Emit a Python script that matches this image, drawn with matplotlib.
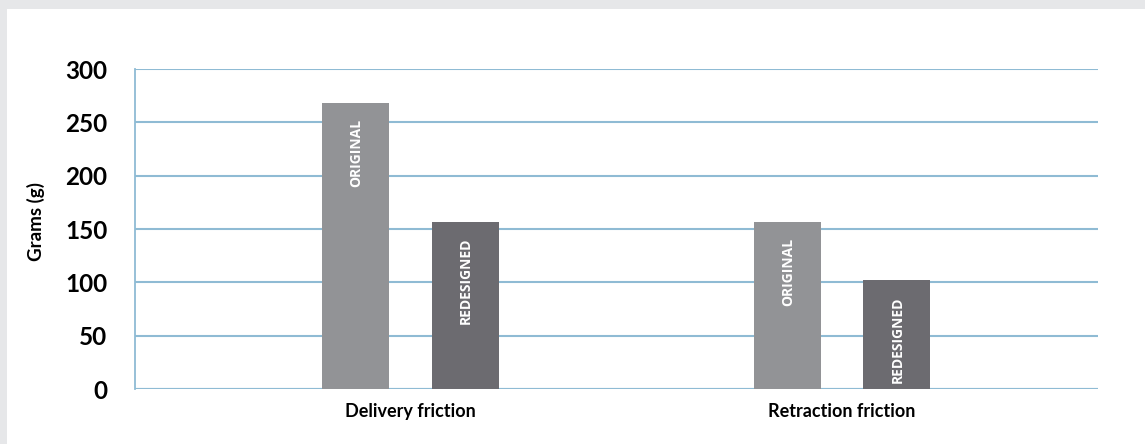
import matplotlib
matplotlib.use("Agg")
import matplotlib.pyplot as plt
from matplotlib.patches import Rectangle
import numpy as np

categories = ["Delivery friction", "Retraction friction"]
series_names = ["ORIGINAL", "REDESIGNED"]
original = [268, 157]
redesigned = [157, 102]
yticks = [0, 50, 100, 150, 200, 250, 300]

W, H = 1145, 444
fig = plt.figure(figsize=(W / 100, H / 100), dpi=100)
fig.patch.set_facecolor("#e6e7e9")
fig.patches.append(Rectangle((7 / W, 0), 1, 1 - 9 / H, transform=fig.transFigure,
                             facecolor="white", edgecolor="none", zorder=-5))

ax = fig.add_axes([135 / W, 1 - 389 / H, (1098 - 135) / W, (389 - 69) / H])
ax.set_facecolor("none")
ax.set_zorder(2)

grid_c = "#8fbbd4"
x = np.arange(len(categories))
off = 0.127
bw = 0.155
colors = ["#929396", "#6c6b70"]
for vals, o, c, name in [(original, -off, colors[0], series_names[0]),
                         (redesigned, off, colors[1], series_names[1])]:
    bars = ax.bar(x + o, vals, width=bw, color=c, zorder=3)
    for b in bars:
        ax.annotate(name, (b.get_x() + b.get_width() / 2, b.get_height()),
                    xytext=(1, -16), textcoords="offset pixels",
                    rotation=90, ha="center", va="top", color="white",
                    fontsize=10, fontweight="bold", family="Open Sans", zorder=4)

ax.set_ylim(0, 300)
ax.set_xlim(-0.638, 1.593)
ax.set_yticks(yticks)
ax.yaxis.grid(True, color=grid_c, linewidth=1.5, zorder=1)
ax.set_axisbelow(True)
for s in ["top", "right", "bottom"]:
    ax.spines[s].set_visible(False)
ax.spines["left"].set_color(grid_c)
ax.spines["left"].set_linewidth(1.3)
ax.axhline(0, color=grid_c, linewidth=1.5, zorder=1)
ax.tick_params(axis="y", length=0, pad=20, labelsize=17.5)
ax.tick_params(axis="x", length=0, pad=10, labelsize=13)
for t in ax.get_yticklabels():
    t.set_fontfamily("Lato")
    t.set_fontweight("bold")
ax.set_xticks(x)
ax.set_xticklabels(categories, fontfamily="Lato", fontweight="bold")
ax.set_ylabel("Grams (g)", fontsize=13.5, fontweight="bold", family="Lato")
ax.yaxis.set_label_coords(-90 / (1098 - 135), 0.525)

fig.savefig("out.png", dpi=100, facecolor=fig.get_facecolor())
